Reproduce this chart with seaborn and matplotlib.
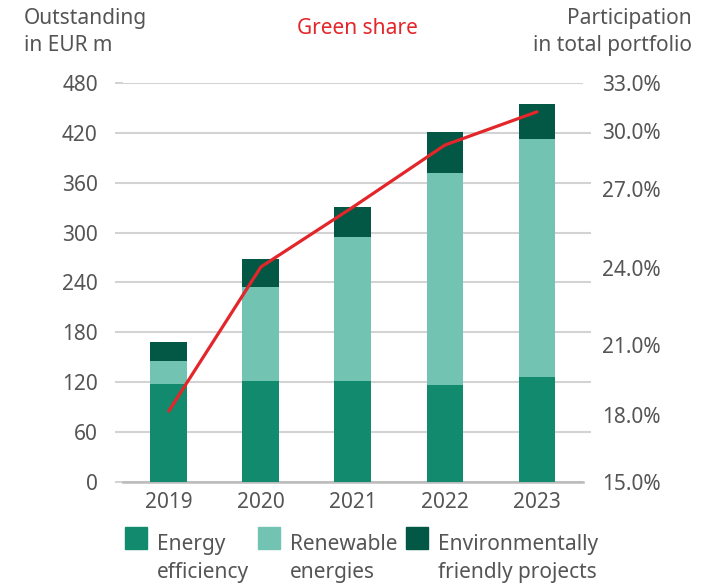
import matplotlib
matplotlib.use("Agg")
import matplotlib.pyplot as plt
import matplotlib.ticker as mticker
from matplotlib.patches import Rectangle
from matplotlib.legend_handler import HandlerPatch
import seaborn as sns
import numpy as np
import pandas as pd

years = ["2019", "2020", "2021", "2022", "2023"]
energy_eff = [118, 121, 121, 117, 126]
renewable = [28, 114, 174, 255, 287]
env_friendly = [22, 33, 36, 49, 42]
green_share = [18.2, 24.7, 27.4, 30.2, 31.7]

left_ticks = [0, 60, 120, 180, 240, 300, 360, 420, 480]
right_labels = ["15.0%", "18.0%", "21.0%", "24.0%", "27.0%", "30.0%", "33.0%"]

c_ee = "#128a6e"
c_re = "#73c3b3"
c_env = "#035745"
c_line = "#e3262a"
c_text = "#555555"
c_grid = "#d3d3d3"
fs = 15

sns.set_theme(style="white")
plt.rcParams["font.family"] = ["Noto Sans", "DejaVu Sans"]

df = pd.DataFrame({"year": years, "ee": energy_eff, "re": renewable, "env": env_friendly})
df["ee_re"] = df["ee"] + df["re"]
df["total"] = df["ee_re"] + df["env"]

fig = plt.figure(figsize=(7.18, 5.84), dpi=100)
ax = fig.add_axes([0.171, 0.1747, 0.641, 0.6832])

# stacked bars by overdrawing cumulative totals
for col, c in [("total", c_env), ("ee_re", c_re), ("ee", c_ee)]:
    sns.barplot(data=df, x="year", y=col, color=c, width=0.4, saturation=1,
                linewidth=0, ax=ax, zorder=3)

ax.set_xlim(-0.5, 4.5)
ax.set_ylim(0, 480)
ax.set_yticks(left_ticks)
ax.yaxis.grid(True, color=c_grid, linewidth=1.5, zorder=0)
ax.set_axisbelow(True)
for s in ["top", "right", "left"]:
    ax.spines[s].set_visible(False)
ax.spines["bottom"].set_color("#bbbbbb")
ax.spines["bottom"].set_linewidth(1.8)
ax.tick_params(axis="y", length=6, width=1.5, color=c_grid, labelsize=fs, labelcolor=c_text, pad=12, left=True)
ax.tick_params(axis="x", length=0, labelsize=fs, labelcolor=c_text, pad=7)
ax.set_xlabel("")
ax.set_ylabel("")

# secondary axis for green share
ax2 = ax.twinx()
sns.lineplot(x=np.arange(len(years)), y=green_share, color=c_line, linewidth=2.3, ax=ax2, zorder=5)
ax2.set_ylim(15, 33)
ax2.yaxis.set_minor_locator(mticker.FixedLocator(np.linspace(15, 33, 9)))
ax2.set_yticks([15.0, 18.0, 21.2, 24.65, 28.2, 30.83, 33.0])
ax2.set_yticklabels(right_labels)
ax2.tick_params(axis="y", which="minor", length=6, width=1.5, color=c_grid, right=True)
ax2.tick_params(axis="y", which="major", length=0, labelsize=fs, labelcolor=c_text, pad=14)
for s in ["top", "right", "left", "bottom"]:
    ax2.spines[s].set_visible(False)
ax2.set_ylabel("")

fig.text(0.033, 0.945, "Outstanding\nin EUR m", ha="left", va="center", fontsize=fs,
         color=c_text, linespacing=1.33)
fig.text(0.498, 0.951, "Green share", ha="center", va="center", fontsize=fs, color=c_line)
fig.text(0.964, 0.945, "Participation\nin total portfolio", ha="right", va="center", fontsize=fs,
         color=c_text, linespacing=1.33)


def top_square(legend, orig_handle, xdescent, ydescent, width, height, fontsize):
    side = 22 * 72 / 100
    return Rectangle((-xdescent, -ydescent + height - side * 0.2 + 5), side, side)


handles = [Rectangle((0, 0), 1, 1, color=c) for c in (c_ee, c_re, c_env)]
labels = ["Energy\nefficiency", "Renewable\nenergies", "Environmentally\nfriendly projects"]
leg = fig.legend(handles, labels, ncol=3, loc="lower left", bbox_to_anchor=(0.148, -0.03),
                 frameon=False, fontsize=fs, labelcolor=c_text, handlelength=1.0,
                 handletextpad=0.55, columnspacing=0.4, labelspacing=0,
                 handler_map={Rectangle: HandlerPatch(patch_func=top_square)})
for t in leg.get_texts():
    t.set_linespacing(1.45)

fig.savefig("out.png", dpi=100)
